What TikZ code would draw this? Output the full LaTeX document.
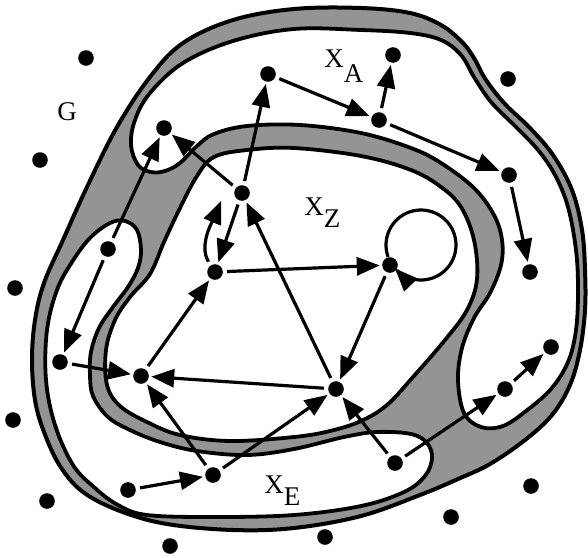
\documentclass[tikz,border=0pt]{standalone}
\usepackage{fontspec}
\setmainfont{Liberation Serif}
\usetikzlibrary{arrows.meta}
\begin{document}
\begin{tikzpicture}[x=0.5pt,y=-0.5pt,
  dot/.style={circle,fill=black,inner sep=0pt,minimum size=7.8pt},
  tip/.style={-{Triangle[length=11.5pt,width=9pt]}},
  arr/.style={line width=1.6pt,tip,shorten <=2pt,shorten >=1pt},
  region/.style={fill=white,draw=black,line width=1.9pt},
  band/.style={fill=black!42,draw=black,line width=2pt},
  lbl/.style={font=\fontsize{13.5pt}{16pt}\selectfont,inner sep=0pt,anchor=base west}]
\useasboundingbox (0,0) rectangle (588,557);
\fill[white] (0,0) rectangle (588,557);
% outer curve, shaded
\path[band] plot[smooth cycle, tension=0.6] coordinates {
 (294,9) (361,8) (410,13) (441,25) (462,42) (474,58) (486,80) (505,104) (530,128)
 (553,155) (572,190) (582,230) (585,270) (585,310) (580,350) (570,385) (552,415)
 (525,440) (490,464) (458,479) (420,495) (361,516) (294,528) (233,530) (167,524)
 (120,511) (83,492) (60,466) (44,432) (35,400) (32,360) (35,320) (44,283) (63,240)
 (87,187) (117,127) (150,77) (183,43) (233,20)};
% X_A
\path[region] plot[smooth cycle, tension=0.6] coordinates {
 (233,41) (294,29) (361,30) (410,33) (441,40) (461,55) (474,77) (491,102) (516,127)
 (538,150) (555,175) (568,207) (576,250) (578,290) (576,330) (568,362) (551,389)
 (526,411) (503,426) (481,427) (464,413) (458,380) (462,348) (474,318) (490,293)
 (501,265) (502,240) (494,215) (474,188) (441,163) (411,148) (361,133) (300,125)
 (247,126) (214,134) (197,146) (180,163) (165,171) (151,172) (138,165) (131,145)
 (135,120) (150,93) (183,63)};
% X_E
\path[region] plot[smooth cycle, tension=0.6] coordinates {
 (110,223) (125,221) (137,230) (141,250) (138,268) (128,287) (113,307) (99,328)
 (91,352) (90,375) (93,396) (108,417) (130,430) (160,442) (197,451) (247,455)
 (294,449) (344,437) (377,432) (411,434) (427,443) (432,458) (425,476) (404,492)
 (361,506) (294,515) (214,517) (147,515) (118,505) (95,488) (73,465) (55,425)
 (46,380) (47,330) (57,290) (72,262) (90,238)};
% X_Z
\path[region] plot[smooth cycle, tension=0.6] coordinates {
 (214,157) (247,150) (294,148) (361,156) (411,170) (441,187) (461,207) (474,240)
 (477,279) (467,310) (445,340) (413,377) (387,405) (361,421) (330,431) (294,437)
 (230,441) (180,435) (147,422) (120,406) (107,385) (106,350) (115,320) (130,297)
 (150,274) (164,242) (180,208) (197,176)};
% labels
\node[lbl] (G) at (57,120) {G};
\node[lbl] (XA) at (324,67) {X\raisebox{-7.5pt}{A}};
\node[lbl] (XZ) at (304,215) {X\raisebox{-6pt}{Z}};
\node[lbl] (XE) at (264,493) {X\raisebox{-6pt}{E}};
% nodes
\node[dot] (a1) at (164,128) {};
\node[dot] (a2) at (268,74) {};
\node[dot] (a3) at (379,120) {};
\node[dot] (a4) at (393,55) {};
\node[dot] (a5) at (509,175) {};
\node[dot] (a6) at (530,272) {};
\node[dot] (a7) at (505,389) {};
\node[dot] (a8) at (551,347) {};
\node[dot] (z1) at (242,193) {};
\node[dot] (z2) at (215,272) {};
\node[dot] (z3) at (390,265) {};
\node[dot] (z4) at (141,376) {};
\node[dot] (z5) at (336,389) {};
\node[dot] (e1) at (108,249) {};
\node[dot] (e2) at (60,362) {};
\node[dot] (e3) at (213,475) {};
\node[dot] (e4) at (128,490) {};
\node[dot] (e5) at (395,463) {};
\node[dot] (o1) at (86,58) {};
\node[dot] (o2) at (40,160) {};
\node[dot] (o3) at (15,288) {};
\node[dot] (o4) at (13,420) {};
\node[dot] (o5) at (47,501) {};
\node[dot] (o6) at (170,546) {};
\node[dot] (o7) at (325,537) {};
\node[dot] (o8) at (451,517) {};
\node[dot] (o9) at (531,486) {};
\node[dot] (o10) at (508,79) {};
\coordinate (zt) at (222,199);
% edges
\draw[arr] (e1) -- (a1);
\draw[arr] (e1) -- (e2);
\draw[arr] (e2) -- (z4);
\draw[arr] (z4) -- (z2);
\draw[arr] (z5) -- (z4);
\draw[arr] (e3) -- (z4);
\draw[arr] (e4) -- (e3);
\draw[arr] (e3) -- (z5);
\draw[arr] (e5) -- (z5);
\draw[arr] (e5) -- (a7);
\draw[arr] (a7) -- (a8);
\draw[arr] (z3) -- (z5);
\draw[arr] (z5) -- (z1);
\draw[arr] (z2) -- (z3);
\draw[arr] (z1) -- (a2);
\draw[arr] (z1) -- (a1);
\draw[arr] (z1) -- (z2);
\draw[arr] (z2) .. controls (198,245) and (214,218) .. (zt);
\draw[arr] (a2) -- (a3);
\draw[arr] (a3) -- (a4);
\draw[arr] (a3) -- (a5);
\draw[arr] (a5) -- (a6);
\draw[line width=1.6pt,tip] plot[smooth, domain=160:498, samples=60] ({421+35*cos(\x)},{245+35*sin(\x)});
\end{tikzpicture}
\end{document}
